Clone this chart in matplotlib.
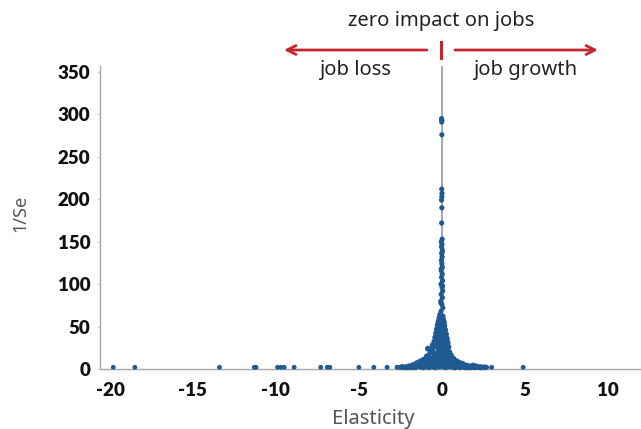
import matplotlib
matplotlib.use("Agg")
import matplotlib.pyplot as plt

# ---- data ----
tail_x = [-19.8, -18.5, -13.4, -11.3, -11.2, -9.9, -9.7, -9.5, -8.9, -7.3, -6.9, -6.75,
          -5.0, -4.1, -3.3, -2.7, -2.55, -2.4, -2.2, -2.05, -1.9, 1.9, 2.2, 2.5, 2.7, 3.0, 4.9]
tail_y = [2, 2, 2, 2, 2, 2, 2, 2, 2, 2, 2, 2,
          2, 2, 2, 2, 2, 3, 2, 3, 4, 3, 2, 2, 2, 2, 2]

spine_x = [-0.02, 0.0, -0.01, 0.0, -0.01, 0.01, 0.0, -0.02, 0.0, -0.01, 0.02, -0.03, 0.01,
           -0.02, 0.03, -0.01, 0.02, -0.03, 0.0, 0.03, -0.04, 0.02, -0.02, 0.04, -0.05,
           0.01, 0.05, -0.04, 0.03, -0.06, 0.0, 0.06, -0.05, 0.02, -0.03, 0.04, -0.06]
spine_y = [295, 293, 291, 276, 212, 207, 203, 199, 190, 172, 153, 150, 147,
           144, 140, 136, 132, 128, 124, 120, 116, 112, 108, 104, 100,
           96, 92, 88, 84, 80, 76, 72, 68, 138, 118, 98, 78]

blob_x = [-0.1, 0.05, -0.15, 0.08, -0.2, 0.12, -0.05, -0.25, 0.15, -0.1, 0.05, -0.3, 0.2,
          -0.2, 0.0, -0.35, 0.25, -0.15, 0.1, -0.4, 0.3, -0.25, 0.05, -0.45, 0.35, -0.1,
          0.2, -0.55, -0.3, 0.4, 0.0, -0.84, -0.6, 0.3, -0.2, 0.45, -0.7, 0.1, -0.4, 0.55,
          -0.9, 0.25, -0.15, 0.7, -1.1, -0.5, 0.4, 0.9, -1.3, -0.75, 0.15, 1.1, -1.5, -0.3,
          0.6, 1.3, -1.7, -1.0, 0.0, 0.95, 1.5, -2.0, -1.25, -0.55, 0.35, 1.2, 1.7, -1.6,
          -0.8, 0.2, 0.8, 1.4, 2.0, -0.1, -0.35, 0.15, -0.5, -0.2, 0.1, -0.6, 0.25, -0.05,
          -0.3, 0.35, -0.45, 0.05, -0.7, 0.5, -0.25, 0.2, -0.9, 0.65, -0.4, 0.0, -1.2, 0.85,
          -0.6, 0.3, -1.4, 1.0, -0.15, 0.55, -1.8, 1.6, -1.1, 0.75, -2.2, 1.8, 2.3, -2.4,
          -0.5, -0.3, -0.1, 0.1, 0.3, -0.6, -0.4, -0.2, 0.0, 0.2, 0.4, -0.8, -0.5, -0.25,
          0.05, 0.3, 0.55, -1.0, -0.65, -0.35, -0.05, 0.25, 0.5, 0.8, -1.3, -0.95, -0.6,
          -0.3, 0.0, 0.3, 0.6, 0.95, 1.25, -1.6, -1.3, -1.0, -0.7, -0.4, -0.1, 0.2, 0.5,
          0.8, 1.1, 1.4, 1.9, 2.1, 2.6, -1.9, -1.45, -2.1, 1.55, 2.4, 1.75]
blob_y = [64, 62, 60, 58, 56, 55, 54, 52, 51, 50, 48, 47, 46,
          45, 44, 42, 41, 40, 39, 37, 36, 35, 34, 32, 31, 30,
          29, 28, 27, 26, 25, 24, 23, 22, 21, 20, 19, 18, 17, 16,
          15, 14, 13, 12, 11, 11, 10, 9, 9, 8, 8, 7, 7, 6,
          6, 5, 5, 5, 4, 4, 4, 3, 3, 3, 3, 3, 3, 2,
          2, 2, 2, 2, 2, 38, 33, 30, 26, 24, 22, 20, 18, 16,
          14, 12, 12, 10, 10, 9, 8, 8, 7, 7, 6, 6, 5, 5,
          4, 4, 4, 3, 3, 3, 2, 2, 2, 2, 2, 2, 2, 2,
          28, 31, 35, 27, 24, 21, 18, 26, 20, 17, 15, 14, 13, 16,
          11, 9, 13, 10, 11, 9, 14, 10, 7, 9, 6, 7, 5,
          8, 7, 6, 4, 5, 6, 4, 3, 4, 3, 2, 3, 3, 4,
          3, 2, 3, 4, 3, 2, 2, 5, 2, 2, 2, 3]

x_ticks = [-20, -15, -10, -5, 0, 5, 10]
y_ticks = [0, 50, 100, 150, 200, 250, 300, 350]

W, H = 641, 429
fig = plt.figure(figsize=(W / 100, H / 100), dpi=100)
fig.patch.set_facecolor("white")

ax = fig.add_axes([100 / W, 1 - 369 / H, 541 / W, 303 / H])
ax.set_xlim(-20.6, 12.0)
ax.set_ylim(0, 357)

ax.plot([0, 0], [0, 357], color="#8b9aa8", lw=1.2, zorder=1)

pt_color = "#1f5a93"
ax.scatter(tail_x, tail_y, s=12, color=pt_color, edgecolors="none", zorder=3, clip_on=False)
ax.scatter(spine_x, spine_y, s=14, color=pt_color, edgecolors="none", zorder=3)
ax.scatter(blob_x, blob_y, s=18, color=pt_color, edgecolors="none", zorder=3, clip_on=False)

for s in ["top", "right"]:
    ax.spines[s].set_visible(False)
for s in ["left", "bottom"]:
    ax.spines[s].set_color("#a6a6a6")
    ax.spines[s].set_linewidth(1.0)

ax.set_xticks(x_ticks)
ax.set_yticks(y_ticks)
ax.set_xticklabels([str(v) for v in x_ticks])
ax.set_yticklabels([str(v) for v in y_ticks])
ax.tick_params(axis="x", length=0, pad=9)
ax.tick_params(axis="y", length=2, color="#d0d0d0", pad=5)
for lab in ax.get_xticklabels() + ax.get_yticklabels():
    lab.set_fontfamily("Lato")
    lab.set_fontweight("heavy")
    lab.set_fontsize(13.5)
    lab.set_color("#111111")

def px(x, y):
    return x / W, 1 - y / H

txt_kw = dict(fontfamily="Noto Sans", ha="center", va="center")
fig.text(*px(373, 419), "Elasticity", fontsize=14.5, color="#555555", **txt_kw)
fig.text(*px(20, 213), "1/Se", fontsize=13, color="#555555", rotation=90, **txt_kw)
fig.text(*px(441, 21), "zero impact on jobs", fontsize=14.5, color="#222222", **txt_kw)
fig.text(*px(355, 70), "job loss", fontsize=14.5, color="#222222", **txt_kw)
fig.text(*px(525, 70), "job growth", fontsize=14.5, color="#222222", **txt_kw)

red = "#c1272d"
fig.add_artist(plt.Line2D([441 / W, 441 / W], [1 - 42 / H, 1 - 58 / H],
                          transform=fig.transFigure, color=red, lw=2.2))
ax.annotate("", xy=px(284, 50), xytext=px(427, 50), xycoords="figure fraction",
            textcoords="figure fraction",
            arrowprops=dict(arrowstyle="->", color=red, lw=2, mutation_scale=16,
                            shrinkA=0, shrinkB=0))
ax.annotate("", xy=px(598, 50), xytext=px(455, 50), xycoords="figure fraction",
            textcoords="figure fraction",
            arrowprops=dict(arrowstyle="->", color=red, lw=2, mutation_scale=16,
                            shrinkA=0, shrinkB=0))

fig.savefig("out.png", dpi=100, facecolor="white")
